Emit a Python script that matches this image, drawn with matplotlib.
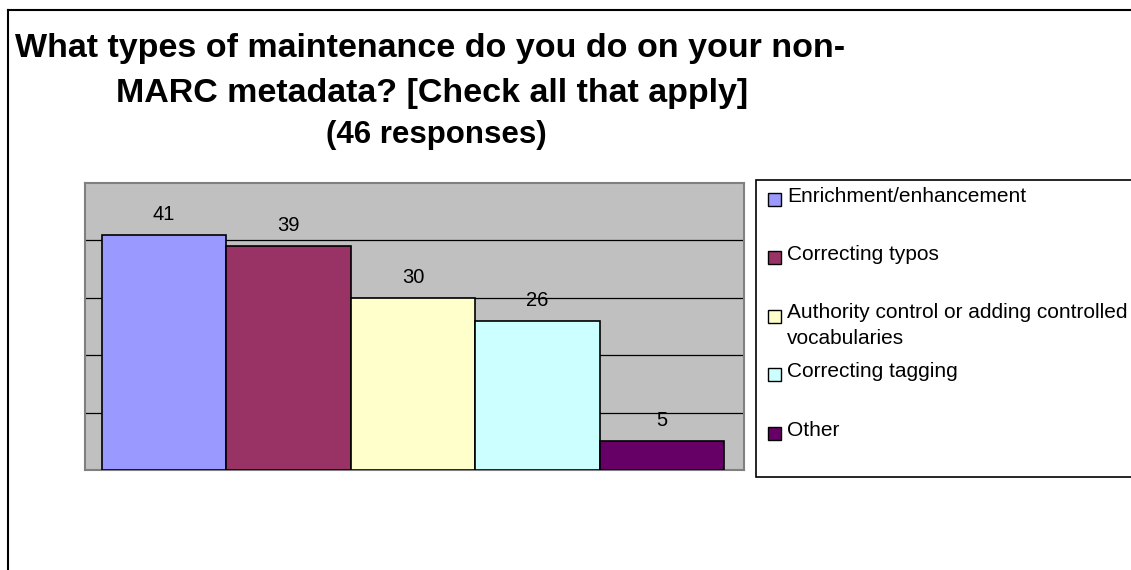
import matplotlib
matplotlib.use("Agg")
import matplotlib.pyplot as plt
import matplotlib.patches as patches
from matplotlib.lines import Line2D

# survey answers
categories = ["Enrichment/enhancement", "Correcting typos",
              "Authority control or adding controlled\nvocabularies",
              "Correcting tagging", "Other"]
counts = [41, 39, 30, 26, 5]
colors = ["#9999FF", "#993366", "#FFFFCC", "#CCFFFF", "#660066"]

title_lines = ["What types of maintenance do you do on your non-",
               "MARC metadata? [Check all that apply]"]
subtitle = "(46 responses)"

W, H = 1131, 570


def fx(x):
    return x / W


def fy(y):
    return 1 - y / H


fig = plt.figure(figsize=(W / 100, H / 100), dpi=100)
fig.patch.set_facecolor("white")

# outer chart border (left and top only visible)
fig.add_artist(Line2D([fx(8), fx(8)], [fy(10), 0], transform=fig.transFigure, color="black", lw=1.5))
fig.add_artist(Line2D([fx(8), 1], [fy(10), fy(10)], transform=fig.transFigure, color="black", lw=1.5))

# titles
font = ["Liberation Sans", "DejaVu Sans"]
fig.text(fx(430), fy(57), title_lines[0], ha="center", va="baseline",
         fontsize=24.5, fontweight="bold", family=font)
fig.text(fx(432), fy(102), title_lines[1], ha="center", va="baseline",
         fontsize=24.5, fontweight="bold", family=font)
fig.text(fx(436), fy(143), subtitle, ha="center", va="baseline",
         fontsize=22.5, fontweight="bold", family=font)

# plot area
ax = fig.add_axes([fx(85), fy(470), (744 - 85) / W, (470 - 183) / H])
ax.set_facecolor("#C0C0C0")
x = list(range(len(counts)))
ax.bar(x, counts, width=1.0, color=colors, edgecolor="black", linewidth=1.2, zorder=3)
ax.set_xlim(-0.635, 4.66)
ax.set_ylim(0, 50)
ax.set_yticks([10, 20, 30, 40])
ax.yaxis.grid(True, color="black", lw=0.9, zorder=1)
ax.tick_params(left=False, bottom=False, labelleft=False, labelbottom=False)
for s in ax.spines.values():
    s.set_color("#808080")
    s.set_linewidth(1.5)

for i, v in enumerate(counts):
    ax.annotate(str(v), (i, v), xytext=(0, 15), textcoords="offset pixels",
                ha="center", va="baseline", fontsize=14.5, family=font)

# legend
fig.add_artist(patches.Rectangle((fx(756), fy(477)), (1140 - 756) / W, (477 - 180) / H,
                                 transform=fig.transFigure, facecolor="white",
                                 edgecolor="black", lw=1.2))
for i, (lab, c) in enumerate(zip(categories, colors)):
    yc = 196 + i * 58.5
    fig.add_artist(patches.Rectangle((fx(768), fy(yc + 9.5)), 13 / W, 13 / H,
                                     transform=fig.transFigure, facecolor=c,
                                     edgecolor="black", lw=1))
    for k, line in enumerate(lab.split("\n")):
        fig.text(fx(787), fy(yc + k * 26), line, ha="left", va="center",
                 fontsize=15, family=font)

fig.savefig("out.png", dpi=100)
